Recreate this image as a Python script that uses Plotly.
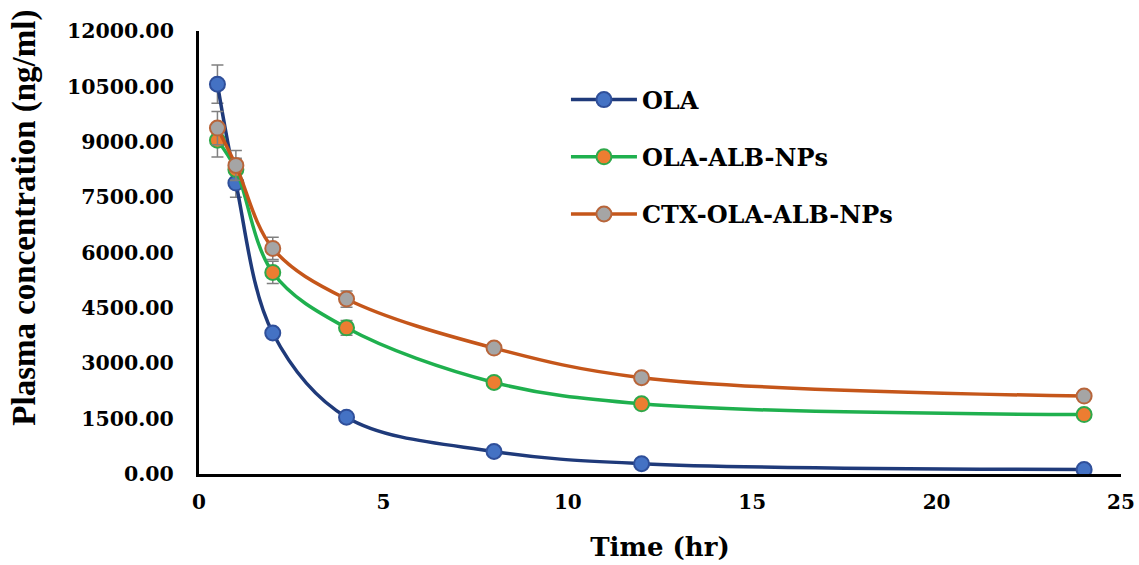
import plotly.graph_objects as go

time_hr = [0.5, 1, 2, 4, 8, 12, 24]
ola = [10560, 7880, 3820, 1540, 610, 280, 120]
ola_err = [520, 380, 0, 0, 0, 0, 0]
ola_alb = [9040, 8250, 5460, 3960, 2480, 1900, 1610]
ola_alb_err = [450, 300, 300, 200, 0, 0, 0]
ctx = [9370, 8360, 6110, 4740, 3410, 2610, 2110]
ctx_err = [450, 400, 300, 220, 100, 0, 0]

y_ticks = [0, 1500, 3000, 4500, 6000, 7500, 9000, 10500, 12000]
x_ticks = [0, 5, 10, 15, 20, 25]

series = [
    ("OLA", ola, ola_err, "#1F3A7A", "#4472C4", "#2F4F9A"),
    ("OLA-ALB-NPs", ola_alb, ola_alb_err, "#1FB04E", "#ED7D31", "#2FA84A"),
    ("CTX-OLA-ALB-NPs", ctx, ctx_err, "#C5561A", "#A5A5A5", "#B8653A"),
]

SERIF = "Liberation Serif"
WIDE = "DejaVu Serif"
fig = go.Figure()
for i, (name, vals, errs, lc, mfill, mline) in enumerate(series):
    fig.add_trace(go.Scatter(
        x=time_hr, y=vals, name=name, mode="lines+markers",
        line=dict(color=lc, width=3.5, shape="spline", smoothing=1),
        marker=dict(size=15, color=mfill, line=dict(color=mline, width=2)),
        error_y=dict(type="data", array=errs, visible=True, color="#808080",
                     thickness=1.5, width=6),
        legendgroup=f"g{i}",
    ))

fig.add_annotation(
    text="Plasma concentration (ng/ml)", textangle=-90,
    xref="paper", yref="paper", x=-0.189, y=0.578,
    xanchor="center", yanchor="middle", showarrow=False,
    font=dict(family=SERIF, size=33, color="black", weight="bold"),
)

fig.update_layout(
    width=1139, height=565,
    paper_bgcolor="white", plot_bgcolor="white",
    margin=dict(l=199, r=18, t=31, b=91),
    font=dict(family=SERIF, color="black"),
    legend=dict(x=0.398, y=0.895, xanchor="left", yanchor="top",
                itemwidth=66,
                font=dict(family=WIDE, size=24, color="black", weight="bold"),
                tracegroupgap=23, bgcolor="rgba(0,0,0,0)"),
    xaxis=dict(range=[0, 25], tickvals=x_ticks, showgrid=False, zeroline=False,
               automargin=False,
               showline=True, linecolor="black", linewidth=3, ticks="",
               ticklabelstandoff=8,
               tickfont=dict(family=WIDE, size=20, color="black", weight="bold"),
               title=dict(text="Time (hr)", standoff=25,
                          font=dict(family=WIDE, size=26, color="black", weight="bold"))),
    yaxis=dict(range=[0, 12000], tickvals=y_ticks,
               ticktext=[f"{v:.2f}" for v in y_ticks],
               showgrid=False, zeroline=False, automargin=False,
               showline=True, linecolor="black", linewidth=3, ticks="",
               ticklabelstandoff=18,
               tickfont=dict(family=WIDE, size=20.5, color="black", weight="bold")),
)

fig.write_html("out.html", config={"displayModeBar": False},
               post_script="document.body.style.margin='0';document.body.style.overflow='hidden';")
